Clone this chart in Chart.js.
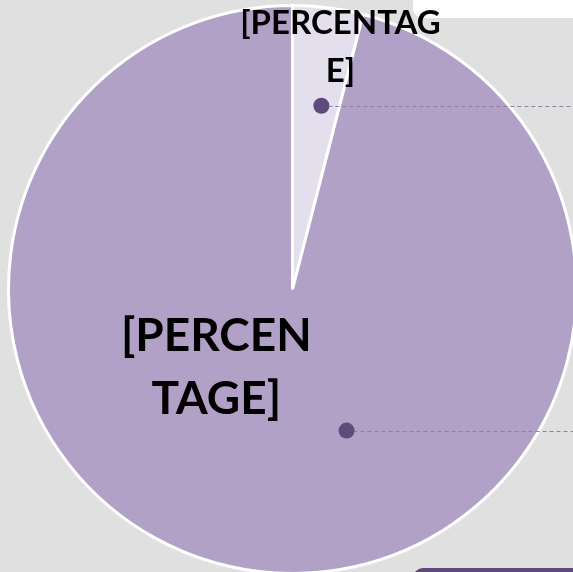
<!DOCTYPE html>
<html>
<head>
<meta charset="utf-8">
<script src="https://cdn.jsdelivr.net/npm/chart.js@4/dist/chart.umd.min.js"></script>
<style>
html,body{margin:0;padding:0;background:#e0e0e0;overflow:hidden;width:573px;height:572px;}
#wrap{position:relative;width:578px;height:576px;}
</style>
</head>
<body>
<div id="wrap"><canvas id="c"></canvas></div>
<script>
const categories = ["A", "B"];
const values = [4, 96];
const labelLines = [["[PERCENTAG", "E]"], ["[PERCEN", "TAGE]"]];
const sliceColors = ["#e4dfec", "#b2a1c7"];

const overlay = {
  id: 'overlay',
  beforeDraw(chart) {
    const ctx = chart.ctx;
    ctx.save();
    ctx.fillStyle = '#ffffff';
    ctx.beginPath();
    ctx.roundRect(413, -20, 200, 38, 10);
    ctx.fill();
    ctx.restore();
  },
  afterDraw(chart) {
    const ctx = chart.ctx;
    const meta = chart.getDatasetMeta(0);
    const arcs = meta.data;
    // dots & leader lines: [radius fraction, angle fraction within slice]
    const dotSpec = [[0.655, 0.62], [0.532, 0.4185]];
    // label placement: [radius fraction, angle fraction, font size, line height]
    const labSpec = [[0.868, 0.78, 33, 48], [0.385, 0.607, 46, 63]];
    ctx.save();
    arcs.forEach((arc, i) => {
      const {x, y, startAngle, endAngle, outerRadius} = arc.getProps(['x','y','startAngle','endAngle','outerRadius'], true);
      const a = startAngle + (endAngle - startAngle) * dotSpec[i][1];
      const r = outerRadius * dotSpec[i][0];
      const px = x + Math.cos(a) * r, py = y + Math.sin(a) * r;
      ctx.strokeStyle = '#8c82a2';
      ctx.lineWidth = 1;
      ctx.setLineDash([4, 3]);
      ctx.beginPath();
      ctx.moveTo(px, Math.round(py) + 0.5);
      ctx.lineTo(chart.width + 5, Math.round(py) + 0.5);
      ctx.stroke();
      ctx.setLineDash([]);
      ctx.fillStyle = '#604a7b';
      ctx.beginPath();
      ctx.arc(px, py, 8, 0, Math.PI * 2);
      ctx.fill();

      const la = startAngle + (endAngle - startAngle) * labSpec[i][1];
      const lr = outerRadius * labSpec[i][0];
      const lx = x + Math.cos(la) * lr, ly = y + Math.sin(la) * lr;
      ctx.fillStyle = '#000000';
      ctx.font = 'bold ' + labSpec[i][2] + 'px Lato, "Open Sans", sans-serif';
      ctx.textAlign = 'center';
      ctx.textBaseline = 'middle';
      const lines = labelLines[i];
      const lh = labSpec[i][3];
      lines.forEach((t, k) => {
        ctx.fillText(t, lx, ly + (k - (lines.length - 1) / 2) * lh);
      });
    });
    // purple box bottom right
    ctx.fillStyle = '#604a7b';
    ctx.beginPath();
    ctx.roundRect(413, 568, 200, 40, 10);
    ctx.fill();
    ctx.restore();
  }
};

new Chart(document.getElementById('c'), {
  type: 'pie',
  data: {
    labels: categories,
    datasets: [{
      data: values,
      backgroundColor: sliceColors,
      borderColor: '#ffffff',
      borderWidth: 3
    }]
  },
  options: {
    responsive: true,
    maintainAspectRatio: false,
    animation: false,
    layout: { padding: { left: 7, right: 0, top: 3, bottom: 0 } },
    plugins: { legend: { display: false }, tooltip: { enabled: false } }
  },
  plugins: [overlay]
});
</script>
</body>
</html>
